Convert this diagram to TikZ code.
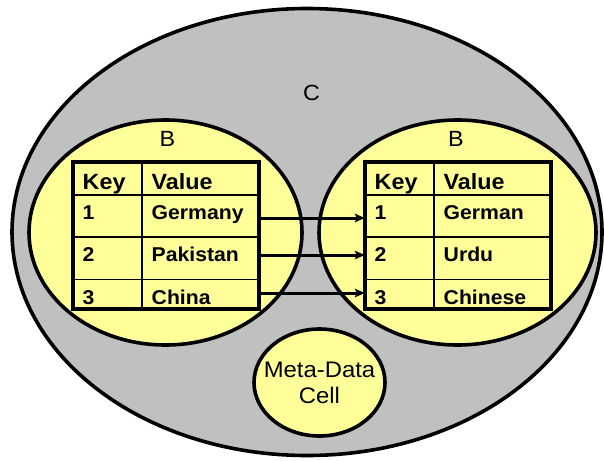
\documentclass[tikz,border=0pt]{standalone}
\usepackage{fontspec}
\setmainfont{Liberation Sans}[FakeStretch=1.06]
\usetikzlibrary{shapes.geometric,arrows.meta}
\definecolor{cellgray}{RGB}{192,192,192}
\definecolor{cellyellow}{RGB}{255,255,153}

\begin{document}
\begin{tikzpicture}[x=1pt,y=-1pt,
  region/.style={ellipse, draw=black, line width=3.6pt, inner sep=0pt},
  tag/.style={font=\fontsize{22}{26}\selectfont, inner sep=0pt},
  head/.style={font=\bfseries\fontsize{22}{26}\selectfont, anchor=base west, inner sep=0pt},
  entry/.style={font=\bfseries\fontsize{20}{24}\selectfont, anchor=base west, inner sep=0pt},
  tablebox/.style={rectangle, draw=black, line width=3.4pt, inner sep=0pt,
                   minimum width=186pt, minimum height=147pt},
  rowbox/.style={rectangle, inner sep=0pt, minimum width=186pt, minimum height=30pt},
  rule/.style={line width=1.5pt},
  link/.style={line width=3pt, -{Stealth[length=10pt,width=8.5pt,inset=2pt]}}]

\useasboundingbox (0,0) rectangle (604,460);

% outer cell C
\node[region, fill=cellgray, minimum width=590pt, minimum height=447pt] (cellC) at (307,232) {};
\node[tag] (labelC) at (311.5,92.5) {C};

% the two B regions
\node[region, fill=cellyellow, minimum width=273pt, minimum height=225pt] (regionL) at (165.5,232.5) {};
\node[region, fill=cellyellow, minimum width=277pt, minimum height=225pt] (regionR) at (457.5,232.5) {};
\node[tag] (labelBL) at (167.5,139) {B};
\node[tag] (labelBR) at (456,139) {B};

% meta-data cell
\node[region, fill=cellyellow, minimum width=131pt, minimum height=107pt] (meta) at (319.5,382.5) {};
\node[align=center, inner sep=0pt, font=\fontsize{22.5}{26}\selectfont] (metaText)
      at (meta.center) {Meta-Data\\Cell};

% left table: key -> country
\draw[rule] (73,195) -- (259,195) (73,237) -- (259,237) (73,279.5) -- (259,279.5)
            (142,162) -- (142,309);
\node[tablebox] (tableL) at (166,235.5) {};
\node[head]  (lkh) at (82.5,189) {Key};
\node[head]  (lvh) at (151.5,189) {Value};
\node[entry] (lk1) at (82.5,219) {1};
\node[entry] (lv1) at (151.5,219) {Germany};
\node[entry] (lk2) at (82.5,261.5) {2};
\node[entry] (lv2) at (151.5,261.5) {Pakistan};
\node[entry] (lk3) at (82.5,304) {3};
\node[entry] (lv3) at (151.5,304) {China};

% right table: key -> language
\draw[rule] (365,195) -- (551,195) (365,237) -- (551,237) (365,279.5) -- (551,279.5)
            (434,162) -- (434,309);
\node[tablebox] (tableR) at (458,235.5) {};
\node[head]  (rkh) at (374.5,189) {Key};
\node[head]  (rvh) at (443.5,189) {Value};
\node[entry] (rk1) at (374.5,219) {1};
\node[entry] (rv1) at (443.5,219) {German};
\node[entry] (rk2) at (374.5,261.5) {2};
\node[entry] (rv2) at (443.5,261.5) {Urdu};
\node[entry] (rk3) at (374.5,304) {3};
\node[entry] (rv3) at (443.5,304) {Chinese};

% row anchors for the links
\node[rowbox] (L1) at (166,218) {};
\node[rowbox] (L2) at (166,255) {};
\node[rowbox] (L3) at (166,293) {};
\node[rowbox] (R1) at (458,218) {};
\node[rowbox] (R2) at (458,255) {};
\node[rowbox] (R3) at (458,293) {};

\draw[link] (L1.east) -- (R1.west);
\draw[link] (L2.east) -- (R2.west);
\draw[link] (L3.east) -- (R3.west);
\end{tikzpicture}
\end{document}
